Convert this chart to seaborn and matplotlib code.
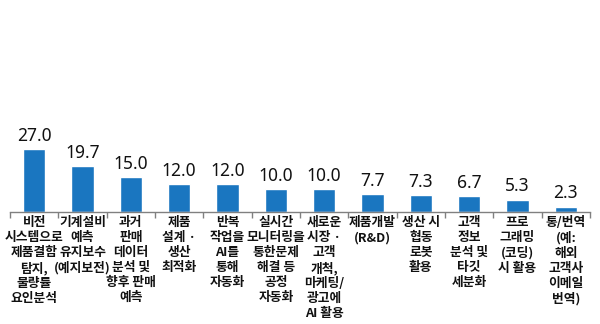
import matplotlib
matplotlib.use("Agg")
import matplotlib.pyplot as plt
import seaborn as sns
import pandas as pd
import numpy as np

categories = [
    "비전\n시스템으로\n제품결함\n탐지,\n불량률\n요인분석",
    "기계설비\n예측\n유지보수\n(예지보전)",
    "과거\n판매\n데이터\n분석 및\n향후 판매\n예측",
    "제품\n설계 ·\n생산\n최적화",
    "반복\n작업을\nAI를\n통해\n자동화",
    "실시간\n모니터링을\n통한문제\n해결 등\n공정\n자동화",
    "새로운\n시장 ·\n고객\n개척,\n마케팅/\n광고에\nAI 활용",
    "제품개발\n(R&D)",
    "생산 시\n협동\n로봇\n활용",
    "고객\n정보\n분석 및\n타깃\n세분화",
    "프로\n그래밍\n(코딩)\n시 활용",
    "통/번역\n(예:\n해외\n고객사\n이메일\n번역)",
]
values = [27.0, 19.7, 15.0, 12.0, 12.0, 10.0, 10.0, 7.7, 7.3, 6.7, 5.3, 2.3]

sns.set_theme(style="white")
plt.rcParams['font.family'] = ['Noto Sans CJK KR', 'DejaVu Sans']

df = pd.DataFrame({"cat": categories, "val": values})

fig = plt.figure(figsize=(6, 3.24), dpi=100)
ax = fig.add_axes([10/600, 112/324, 580/600, 202/324])
sns.barplot(data=df, x="cat", y="val", color="#1a76c0", width=0.46,
            saturation=1, ax=ax)
ax.set_ylim(0, 202/2.33)
ax.set_xlim(-0.5, len(values) - 0.5)
ax.set_xlabel("")
ax.set_ylabel("")
ax.set_yticks([])
for s in ["top", "right", "left"]:
    ax.spines[s].set_visible(False)
ax.spines["bottom"].set_color("#808080")
ax.spines["bottom"].set_linewidth(1)

ax.set_xticks(range(len(values)))
ax.set_xticklabels(categories, fontsize=9.2, fontweight="bold",
                   linespacing=1.2, va="top", color="#111111")
ax.tick_params(axis="x", which="major", length=0, pad=3)
ax.set_xticks(np.arange(-0.5, len(values), 1), minor=True)
ax.tick_params(axis="x", which="minor", length=4, width=1, color="#808080", bottom=True)

for i, v in enumerate(values):
    ax.annotate(f"{v:.1f}", (i, v), xytext=(0, 3), textcoords="offset points",
                ha="center", va="bottom", fontsize=12.5,
                fontweight="bold" if i < 3 else "normal",
                family=["Noto Sans", "DejaVu Sans"], color="#111111")

fig.savefig("out.png", dpi=100)
